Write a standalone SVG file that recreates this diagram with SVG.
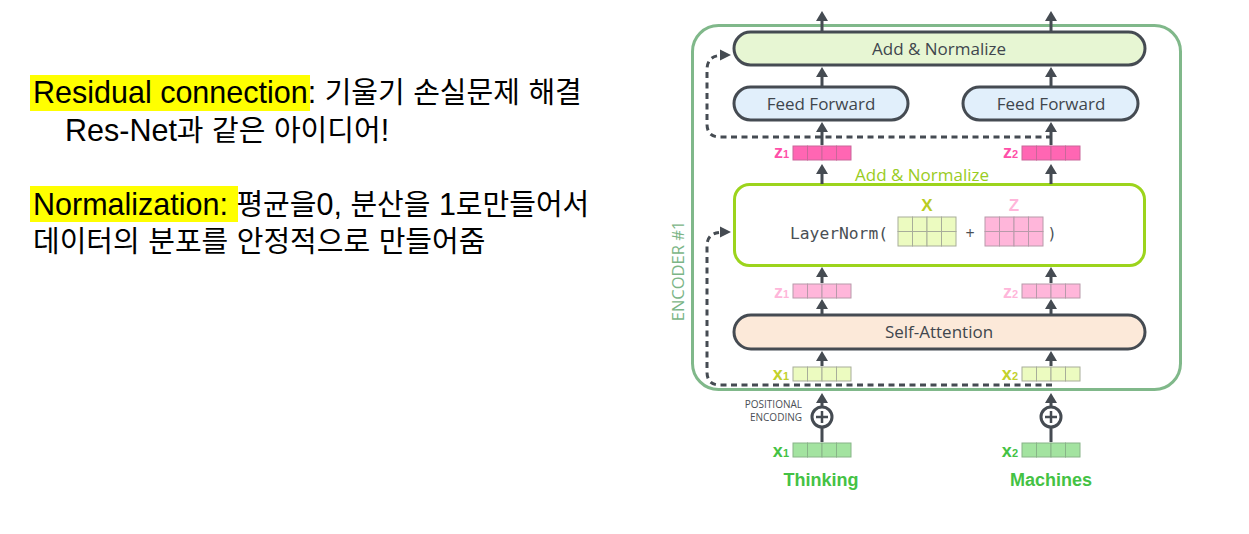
<svg xmlns="http://www.w3.org/2000/svg" width="1249" height="534" viewBox="0 0 1249 534">
<style>
.kt{font-family:"Liberation Sans",Arial,"Noto Sans CJK KR",sans-serif;font-size:30.5px;fill:#000}
.ko{font-family:"Noto Sans CJK KR",sans-serif;font-size:29px}
.hl{fill:#ffff00}
.box{stroke:#454b52;stroke-width:3}
.lbl{font-family:"Open Sans","DejaVu Sans",sans-serif;font-size:17px;fill:#40464d;text-anchor:middle}
.sh{stroke:#454b52;stroke-width:3;fill:none}
.ah{fill:#454b52}
.dash{stroke:#454b52;stroke-width:3;fill:none;stroke-dasharray:6 4.5}
.vl{font-family:"Liberation Sans",Arial,sans-serif;font-weight:bold;font-size:18px;text-anchor:end}
.sub{font-size:11px}
.cz{fill:#ff66b3;stroke:#c9679a;stroke-width:1}
.cp{fill:#ffb6da;stroke:#b89aaa;stroke-width:1}
.cy{fill:#ecfbc0;stroke:#a8ad9a;stroke-width:1}
.cg{fill:#a3e3a0;stroke:#88b488;stroke-width:1}
</style>
<defs>
<path id="up" d="M-6,10 L0,0 L6,10 Z"/>
<path id="rt" d="M0,-5.5 L11,0 L0,5.5 Z"/>
</defs>

<g id="notes">
<rect class="hl" x="30" y="75" width="280" height="36"/>
<rect class="hl" x="30" y="186" width="208" height="36"/>
<text class="kt" x="33" y="103">Residual connection: <tspan class="ko">기울기</tspan> <tspan class="ko">손실문제</tspan> <tspan class="ko">해결</tspan></text>
<text class="kt" x="65" y="141">Res-Net<tspan class="ko">과</tspan> <tspan class="ko">같은</tspan> <tspan class="ko">아이디어</tspan>!</text>
<text class="kt" x="33" y="215">Normalization: <tspan class="ko">평균을</tspan>0, <tspan class="ko">분산을</tspan> 1<tspan class="ko">로만들어서</tspan></text>
<text class="kt" x="33" y="252"><tspan class="ko">데이터의</tspan> <tspan class="ko">분포를</tspan> <tspan class="ko">안정적으로</tspan> <tspan class="ko">만들어줌</tspan></text>
</g>

<g id="encoder">
<rect x="692.5" y="25.5" width="488" height="364" rx="26" fill="none" stroke="#80b88a" stroke-width="3"/>
<text transform="translate(684,271) rotate(-90)" font-family="'Open Sans','DejaVu Sans',sans-serif" font-size="16.5" fill="#7bb586" text-anchor="middle">ENCODER #1</text>
</g>

<g id="add-normalize-top">
<rect class="box" x="734" y="32" width="411" height="33" rx="16.5" fill="#e7f6d3"/>
<text class="lbl" x="939" y="55">Add &amp; Normalize</text>
</g>
<g id="feed-forward-1">
<rect class="box" x="734" y="87" width="174" height="33" rx="16.5" fill="#e1effb"/>
<text class="lbl" x="821" y="110">Feed Forward</text>
</g>
<g id="feed-forward-2">
<rect class="box" x="963" y="87" width="175" height="33" rx="16.5" fill="#e1effb"/>
<text class="lbl" x="1051" y="110">Feed Forward</text>
</g>

<g id="z-top-1">
<text class="vl" x="789" y="158" fill="#ff4fa8">z<tspan class="sub">1</tspan></text>
<rect class="cz" x="793" y="146" width="14.5" height="14"/><rect class="cz" x="807.5" y="146" width="14.5" height="14"/><rect class="cz" x="822" y="146" width="14.5" height="14"/><rect class="cz" x="836.5" y="146" width="14.5" height="14"/>
</g>
<g id="z-top-2">
<text class="vl" x="1018" y="158" fill="#ff4fa8">z<tspan class="sub">2</tspan></text>
<rect class="cz" x="1022" y="146" width="14.5" height="14"/><rect class="cz" x="1036.5" y="146" width="14.5" height="14"/><rect class="cz" x="1051" y="146" width="14.5" height="14"/><rect class="cz" x="1065.5" y="146" width="14.5" height="14"/>
</g>

<g id="add-normalize-detail">
<text x="922" y="181" font-family="'Open Sans','DejaVu Sans',sans-serif" font-size="17" fill="#99cc22" text-anchor="middle">Add &amp; Normalize</text>
<rect x="734.5" y="184.5" width="410" height="81" rx="15" fill="#fff" stroke="#9cd41c" stroke-width="3"/>
<text x="790" y="239" font-family="'DejaVu Sans Mono','Liberation Mono',monospace" font-size="15" fill="#4a4f55" textLength="98" lengthAdjust="spacingAndGlyphs">LayerNorm(</text>
<text x="927" y="211" font-family="'Liberation Sans',Arial,sans-serif" font-weight="bold" font-size="17" fill="#b8cc22" text-anchor="middle">X</text>
<text x="1014" y="211" font-family="'Liberation Sans',Arial,sans-serif" font-weight="bold" font-size="17" fill="#ffb6da" text-anchor="middle">Z</text>
<g>
<rect class="cy" x="898" y="217" width="14.5" height="14.5"/><rect class="cy" x="912.5" y="217" width="14.5" height="14.5"/><rect class="cy" x="927" y="217" width="14.5" height="14.5"/><rect class="cy" x="941.5" y="217" width="14.5" height="14.5"/>
<rect class="cy" x="898" y="231.5" width="14.5" height="14.5"/><rect class="cy" x="912.5" y="231.5" width="14.5" height="14.5"/><rect class="cy" x="927" y="231.5" width="14.5" height="14.5"/><rect class="cy" x="941.5" y="231.5" width="14.5" height="14.5"/>
</g>
<text x="970" y="239" font-family="'Open Sans','DejaVu Sans',sans-serif" font-size="16" fill="#4a4f55" text-anchor="middle">+</text>
<g>
<rect class="cp" x="985" y="217" width="14.5" height="14.5"/><rect class="cp" x="999.5" y="217" width="14.5" height="14.5"/><rect class="cp" x="1014" y="217" width="14.5" height="14.5"/><rect class="cp" x="1028.5" y="217" width="14.5" height="14.5"/>
<rect class="cp" x="985" y="231.5" width="14.5" height="14.5"/><rect class="cp" x="999.5" y="231.5" width="14.5" height="14.5"/><rect class="cp" x="1014" y="231.5" width="14.5" height="14.5"/><rect class="cp" x="1028.5" y="231.5" width="14.5" height="14.5"/>
</g>
<text x="1052" y="239" font-family="'DejaVu Sans Mono','Liberation Mono',monospace" font-size="15" fill="#4a4f55" text-anchor="middle">)</text>
</g>

<g id="z-mid-1">
<text class="vl" x="789" y="298" fill="#ffb6da">z<tspan class="sub">1</tspan></text>
<rect class="cp" x="793" y="284" width="14.5" height="14"/><rect class="cp" x="807.5" y="284" width="14.5" height="14"/><rect class="cp" x="822" y="284" width="14.5" height="14"/><rect class="cp" x="836.5" y="284" width="14.5" height="14"/>
</g>
<g id="z-mid-2">
<text class="vl" x="1018" y="298" fill="#ffb6da">z<tspan class="sub">2</tspan></text>
<rect class="cp" x="1022" y="284" width="14.5" height="14"/><rect class="cp" x="1036.5" y="284" width="14.5" height="14"/><rect class="cp" x="1051" y="284" width="14.5" height="14"/><rect class="cp" x="1065.5" y="284" width="14.5" height="14"/>
</g>

<g id="self-attention">
<rect class="box" x="734" y="315" width="411" height="34" rx="17" fill="#fce9d9"/>
<text class="lbl" x="939" y="338">Self-Attention</text>
</g>

<g id="x-enc-1">
<text class="vl" x="789" y="380" fill="#c2d12c">x<tspan class="sub">1</tspan></text>
<rect class="cy" x="793" y="367" width="14.5" height="14"/><rect class="cy" x="807.5" y="367" width="14.5" height="14"/><rect class="cy" x="822" y="367" width="14.5" height="14"/><rect class="cy" x="836.5" y="367" width="14.5" height="14"/>
</g>
<g id="x-enc-2">
<text class="vl" x="1018" y="380" fill="#c2d12c">x<tspan class="sub">2</tspan></text>
<rect class="cy" x="1022" y="367" width="14.5" height="14"/><rect class="cy" x="1036.5" y="367" width="14.5" height="14"/><rect class="cy" x="1051" y="367" width="14.5" height="14"/><rect class="cy" x="1065.5" y="367" width="14.5" height="14"/>
</g>

<g id="positional-encoding-1">
<text font-family="'Open Sans','DejaVu Sans',sans-serif" font-size="10" fill="#4a4f55" text-anchor="end"><tspan x="802" y="408">POSITIONAL</tspan><tspan x="802" y="421">ENCODING</tspan></text>
<circle cx="822" cy="417" r="10" fill="#fff" stroke="#454b52" stroke-width="3"/>
<path d="M816,417 H828 M822,411 V423" stroke="#454b52" stroke-width="2.5"/>
</g>
<g id="positional-encoding-2">
<circle cx="1051" cy="417" r="10" fill="#fff" stroke="#454b52" stroke-width="3"/>
<path d="M1045,417 H1057 M1051,411 V423" stroke="#454b52" stroke-width="2.5"/>
</g>

<g id="x-in-1">
<text class="vl" x="789" y="457" fill="#44c244">x<tspan class="sub">1</tspan></text>
<rect class="cg" x="793" y="443" width="14.5" height="14"/><rect class="cg" x="807.5" y="443" width="14.5" height="14"/><rect class="cg" x="822" y="443" width="14.5" height="14"/><rect class="cg" x="836.5" y="443" width="14.5" height="14"/>
</g>
<g id="x-in-2">
<text class="vl" x="1018" y="457" fill="#44c244">x<tspan class="sub">2</tspan></text>
<rect class="cg" x="1022" y="443" width="14.5" height="14"/><rect class="cg" x="1036.5" y="443" width="14.5" height="14"/><rect class="cg" x="1051" y="443" width="14.5" height="14"/><rect class="cg" x="1065.5" y="443" width="14.5" height="14"/>
</g>

<g id="word-thinking"><text x="821" y="486" font-family="'Liberation Sans',Arial,sans-serif" font-weight="bold" font-size="18" fill="#44c244" text-anchor="middle">Thinking</text></g>
<g id="word-machines"><text x="1051" y="486" font-family="'Liberation Sans',Arial,sans-serif" font-weight="bold" font-size="18" fill="#44c244" text-anchor="middle">Machines</text></g>

<g id="connectors">
<path class="dash" d="M1052,137 H720 Q707,137 707,124 V70 Q707,57 719,55.5"/>
<use href="#rt" x="720" y="55" class="ah"/>
<path class="dash" d="M1052,385 H720 Q707,385 707,372 V246 Q707,234 719,232.5"/>
<use href="#rt" x="720" y="232" class="ah"/>
<g>
<path class="sh" d="M822,31 V20 M822,86 V76 M822,145 V131 M822,184 V173 M822,283 V276 M822,314 V308 M822,366 V360 M822,406 V402 M822,428 V442 M1051,31 V20 M1051,86 V76 M1051,145 V131 M1051,184 V173 M1051,283 V276 M1051,314 V308 M1051,366 V360 M1051,406 V402 M1051,428 V442"/>
<use href="#up" x="822" y="11" class="ah"/><use href="#up" x="1051" y="11" class="ah"/>
<use href="#up" x="822" y="67" class="ah"/><use href="#up" x="1051" y="67" class="ah"/>
<use href="#up" x="822" y="122" class="ah"/><use href="#up" x="1051" y="122" class="ah"/>
<use href="#up" x="822" y="164" class="ah"/><use href="#up" x="1051" y="164" class="ah"/>
<use href="#up" x="822" y="267" class="ah"/><use href="#up" x="1051" y="267" class="ah"/>
<use href="#up" x="822" y="299" class="ah"/><use href="#up" x="1051" y="299" class="ah"/>
<use href="#up" x="822" y="351" class="ah"/><use href="#up" x="1051" y="351" class="ah"/>
<use href="#up" x="822" y="393" class="ah"/><use href="#up" x="1051" y="393" class="ah"/>
</g>
</g>
</svg>
